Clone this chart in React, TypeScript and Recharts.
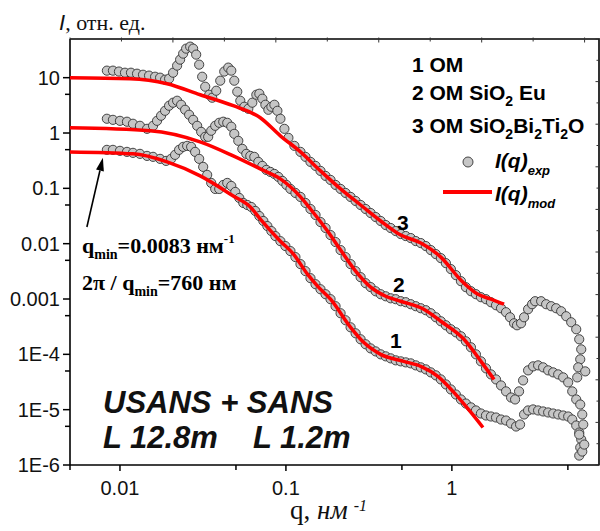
import React from 'react';
import { ComposedChart, Scatter, Line, XAxis, YAxis, ReferenceLine } from 'recharts';

// axis ticks
const xTicks = [0.005, 0.01, 0.05, 0.1, 0.5, 1, 5];
const xTickLabels = ['', '0.01', '', '0.1', '', '1', ''];
const yTicks = [1e-6, 5e-6, 1e-5, 5e-5, 1e-4, 5e-4, 0.001, 0.005, 0.01, 0.05, 0.1, 0.5, 1, 5, 10];
const yTickLabels = ['1E-6', '', '1E-5', '', '1E-4', '', '0.001', '', '0.01', '', '0.1', '', '1', '', '10'];
const xDomain = [0.005, 7.7];
const yDomain = [1e-6, 50];
// the top and right frame edges carry evenly spaced, unlabeled tick marks
const topTickIntervals = 10.28;
const rightTickIntervals = 20;

// layout
const W = 600;
const H = 531;
const M = { top: 39, right: 1, bottom: 0, left: 0 };
const Y_AXIS_W = 70;
const X_AXIS_H = 66;

// 3 OM SiO2Bi2Ti2O, experiment [q, I]
const exp3: [number, number][] = [
  [0.00834, 13.4], [0.00907, 13.4], [0.00986, 12.9], [0.01072, 12.3], [0.01165, 12.3], [0.01267, 11.8],
  [0.01377, 11.3], [0.01497, 10.9], [0.01628, 10.4], [0.01745, 10.0], [0.0187, 9.2], [0.01978, 9.6],
  [0.0209, 12.3], [0.0221, 16.5], [0.02304, 21.2], [0.02403, 27.2], [0.02505, 33.5], [0.02649, 36.4],
  [0.0276, 33.5], [0.02879, 26.1], [0.03001, 17.2], [0.03129, 10.4], [0.03263, 6.87], [0.03449, 4.92],
  [0.03596, 4.34], [0.03803, 5.81], [0.0402, 8.82], [0.0425, 12.9], [0.04494, 15.2], [0.04686, 13.4],
  [0.04885, 8.82], [0.05091, 5.58], [0.0531, 3.83], [0.05613, 2.98], [0.05934, 2.74], [0.06273, 3.53],
  [0.06633, 4.92], [0.06916, 5.13], [0.07211, 4.17], [0.0752, 3.24], [0.07839, 2.63], [0.08174, 2.98],
  [0.08522, 3.24], [0.08884, 2.52], [0.09265, 1.81], [0.09793, 1.19], [0.1035, 0.818], [0.1125, 0.586],
  [0.1224, 0.456], [0.1312, 0.3706], [0.1406, 0.3008], [0.1508, 0.2545], [0.1616, 0.2066], [0.1733, 0.1677],
  [0.1857, 0.142], [0.1991, 0.1152], [0.2135, 0.0975], [0.2288, 0.0825], [0.2453, 0.0699], [0.263, 0.0591],
  [0.2819, 0.05], [0.3022, 0.0423], [0.324, 0.0358], [0.3473, 0.0303], [0.3724, 0.0257], [0.3992, 0.0217],
  [0.4279, 0.01917], [0.4587, 0.01691], [0.4918, 0.01493], [0.5274, 0.01373], [0.5652, 0.01263], [0.6059, 0.01114],
  [0.6497, 0.01025], [0.6965, 0.00905], [0.7465, 0.00766], [0.8003, 0.00648], [0.8581, 0.00548], [0.92, 0.00445],
  [0.9862, 0.00347], [1.057, 0.0027], [1.134, 0.0021], [1.215, 0.001636], [1.303, 0.001384], [1.396, 0.001222],
  [1.497, 0.001078], [1.605, 0.000992], [1.72, 0.000875], [1.845, 0.000772], [1.978, 0.000681], [2.12, 0.000577],
  [2.241, 0.000468], [2.37, 0.000364], [2.47, 0.000335], [2.612, 0.000364], [2.723, 0.000468], [2.879, 0.000653],
  [3.044, 0.000805], [3.173, 0.000912], [3.45, 0.000912], [3.698, 0.000805], [3.965, 0.000741], [4.25, 0.000681],
  [4.556, 0.000601], [4.884, 0.000488], [5.236, 0.00038], [5.614, 0.000284], [5.853, 0.000187], [6.018, 0.000123],
  [5.935, 8.12e-5], [5.771, 5.82e-5], [5.692, 3.83e-5], [6.363, 4.92e-5],
];

// 2 OM SiO2 Eu, experiment
const exp2: [number, number][] = [
  [0.00834, 1.81], [0.00907, 1.73], [0.01, 1.66], [0.01102, 1.6], [0.01198, 1.47], [0.0132, 1.35],
  [0.01456, 1.19], [0.01583, 1.35], [0.01673, 1.66], [0.01769, 2.05], [0.0187, 2.52], [0.01977, 3.11],
  [0.0209, 3.53], [0.0221, 3.83], [0.02336, 3.24], [0.0247, 2.63], [0.02611, 2.14], [0.02761, 1.73],
  [0.02919, 1.35], [0.03086, 1.05], [0.03262, 0.853], [0.03401, 0.853], [0.03547, 1.1], [0.0375, 1.35],
  [0.03964, 1.53], [0.04192, 1.6], [0.04431, 1.53], [0.04686, 1.3], [0.04885, 0.967], [0.05164, 0.723],
  [0.05461, 0.517], [0.05772, 0.42], [0.06101, 0.386], [0.0645, 0.371], [0.06821, 0.301], [0.07211, 0.2545],
  [0.07625, 0.2154], [0.0806, 0.1982], [0.08522, 0.1823], [0.09009, 0.1609], [0.09526, 0.1362], [0.1007, 0.1152],
  [0.1065, 0.0975], [0.1141, 0.0825], [0.1224, 0.0699], [0.1312, 0.0544], [0.1406, 0.0423], [0.1508, 0.033],
  [0.1616, 0.0246], [0.1733, 0.0192], [0.1857, 0.0143], [0.1991, 0.0107], [0.2135, 0.00766], [0.2288, 0.00572],
  [0.2453, 0.00427], [0.263, 0.00319], [0.2819, 0.00248], [0.3022, 0.00193], [0.324, 0.00164], [0.3473, 0.00138],
  [0.3724, 0.00122], [0.3992, 0.00112], [0.4279, 0.00103], [0.4587, 0.000992], [0.4918, 0.000912], [0.5274, 0.000875],
  [0.5652, 0.000805], [0.6059, 0.000741], [0.6497, 0.000681], [0.6965, 0.000627], [0.7465, 0.000553], [0.8003, 0.000468],
  [0.8581, 0.000396], [0.92, 0.000335], [0.9862, 0.000284], [1.057, 0.00025], [1.134, 0.000212], [1.215, 0.000172],
  [1.303, 0.000134], [1.396, 0.0001], [1.497, 7.47e-5], [1.605, 5.58e-5], [1.72, 4.34e-5], [1.845, 3.52e-5],
  [1.978, 2.74e-5], [2.12, 2.14e-5], [2.273, 1.66e-5], [2.404, 1.53e-5], [2.54, 2.14e-5], [2.686, 3.38e-5],
  [2.879, 5.13e-5], [3.087, 6.06e-5], [3.308, 6.32e-5], [3.547, 5.82e-5], [3.803, 5.13e-5], [4.077, 4.72e-5],
  [4.371, 4.34e-5], [4.685, 3.83e-5], [5.022, 3.11e-5], [5.311, 2.14e-5], [5.614, 1.53e-5], [5.935, 1.24e-5],
  [6.103, 8.19e-6], [6.188, 5.39e-6], [5.853, 3.55e-6], [6.275, 2.34e-6],
];

// 1 OM, experiment
const exp1: [number, number][] = [
  [0.00834, 0.496], [0.00907, 0.496], [0.01, 0.476], [0.01102, 0.456], [0.01198, 0.438], [0.0132, 0.42],
  [0.01456, 0.386], [0.01583, 0.371], [0.01745, 0.341], [0.01896, 0.3135], [0.02033, 0.341], [0.02149, 0.403],
  [0.02272, 0.496], [0.02403, 0.562], [0.0254, 0.586], [0.02685, 0.562], [0.02838, 0.456], [0.03001, 0.341],
  [0.03173, 0.2442], [0.03354, 0.1749], [0.03547, 0.1253], [0.0375, 0.0975], [0.03964, 0.0975], [0.04192, 0.1152],
  [0.04431, 0.1253], [0.04686, 0.1105], [0.04954, 0.0861], [0.05236, 0.067], [0.05537, 0.0544], [0.05853, 0.05],
  [0.06187, 0.046], [0.0654, 0.039], [0.06916, 0.0316], [0.07312, 0.0257], [0.07731, 0.0208], [0.08174, 0.0169],
  [0.08642, 0.0137], [0.09265, 0.0111], [0.09931, 0.00905], [0.1065, 0.00734], [0.1141, 0.00572], [0.1224, 0.00427],
  [0.1312, 0.00319], [0.1406, 0.00238], [0.1508, 0.00185], [0.1616, 0.0015], [0.1733, 0.00122], [0.1857, 0.000992],
  [0.1991, 0.000741], [0.2135, 0.000553], [0.2288, 0.000413], [0.2453, 0.000308], [0.263, 0.00024], [0.2819, 0.000187],
  [0.3022, 0.000152], [0.324, 0.000128], [0.3473, 0.000113], [0.3724, 0.0001], [0.3992, 9.2e-5], [0.4279, 8.46e-5],
  [0.4587, 7.79e-5], [0.4918, 7.47e-5], [0.5274, 7.16e-5], [0.5652, 6.87e-5], [0.6059, 6.32e-5], [0.6497, 5.82e-5],
  [0.6965, 5.35e-5], [0.7465, 4.72e-5], [0.8003, 4.17e-5], [0.8581, 3.52e-5], [0.92, 2.86e-5], [0.9862, 2.32e-5],
  [1.057, 1.88e-5], [1.134, 1.53e-5], [1.215, 1.29e-5], [1.303, 1.1e-5], [1.396, 9.67e-6], [1.497, 8.53e-6],
  [1.605, 7.85e-6], [1.72, 7.53e-6], [1.845, 7.22e-6], [1.978, 6.64e-6], [2.12, 6.37e-6], [2.273, 5.62e-6],
  [2.437, 4.96e-6], [2.575, 5.39e-6], [2.723, 8.19e-6], [2.879, 9.67e-6], [3.087, 1.01e-5], [3.308, 9.67e-6],
  [3.547, 9.28e-6], [3.803, 8.9e-6], [4.077, 8.53e-6], [4.371, 8.19e-6], [4.685, 7.85e-6], [5.022, 7.53e-6],
  [5.311, 6.64e-6], [5.614, 5.17e-6], [5.853, 3.86e-6], [6.018, 2.89e-6], [5.935, 2.07e-6], [5.853, 1.48e-6],
  [6.103, 1.75e-6],
];

// model curves
const mod3: [number, number][] = [
  [0.005, 10], [0.01149, 9.59], [0.01923, 7.78], [0.03044, 4.92], [0.04816, 3.11], [0.0701, 1.886],
  [0.0926, 0.89], [0.1224, 0.456], [0.1616, 0.2066], [0.2135, 0.0975], [0.2819, 0.05], [0.3724, 0.0257],
  [0.4918, 0.0143], [0.6497, 0.0103], [0.8581, 0.00572], [1.134, 0.00219], [1.436, 0.00122], [1.72, 0.000992],
  [2.062, 0.000805],
];
const mod2: [number, number][] = [
  [0.005, 1.24], [0.01518, 1.1], [0.0304, 0.693], [0.04816, 0.386], [0.0701, 0.2246], [0.0926, 0.148],
  [0.1224, 0.0699], [0.1406, 0.0423], [0.1781, 0.0169], [0.2135, 0.00766], [0.263, 0.00319], [0.324, 0.00164],
  [0.3992, 0.00112], [0.4918, 0.000912], [0.6773, 0.000653], [0.8581, 0.000396], [1.182, 0.000187], [1.497, 7.47e-5],
  [1.794, 3.52e-5],
];
const mod1: [number, number][] = [
  [0.005, 0.456], [0.01198, 0.42], [0.01923, 0.3008], [0.03044, 0.1677], [0.04816, 0.0728], [0.061, 0.046],
  [0.0701, 0.0279], [0.0926, 0.0111], [0.111, 0.00648], [0.1349, 0.00281], [0.155, 0.00171], [0.1857, 0.000992],
  [0.2453, 0.000308], [0.2939, 0.000165], [0.3724, 0.0001], [0.5129, 7.47e-5], [0.6497, 6.06e-5], [0.823, 3.99e-5],
  [1.028, 2.05e-5], [1.303, 8.9e-6], [1.539, 4.76e-6],
];

// arrow pointing at q_min
const arrowFrom = { x: 0.00632, y: 0.02 };
const arrowTo = { x: 0.00789, y: 0.356 };

const rows = (a: [number, number][]) => a.map(([q, i]) => ({ q, i }));

const SANS = '"Liberation Sans", Arial, sans-serif';
const SERIF = '"Liberation Serif", "Times New Roman", serif';
const RED = '#ff0000';

const Dot = (p: any) => (
  <circle cx={p.cx} cy={p.cy} r={4.6} fill="#c6c6c6" stroke="#333" strokeWidth={0.9} />
);

const XTick = (p: any) => {
  const label = xTickLabels[p.index];
  return (
    <g>
      <line x1={p.x} x2={p.x} y1={p.y} y2={p.y + (label ? 6 : 5)} stroke="#000" strokeWidth={1.5} />
      {label && (
        <text x={p.x} y={p.y + 16} dy="0.71em" textAnchor="middle" fontFamily={SANS} fontSize={20} fill="#111">
          {label}
        </text>
      )}
    </g>
  );
};

const YTick = (p: any) => {
  const label = yTickLabels[p.index];
  return (
    <g>
      <line x1={p.x - (label ? 7 : 5)} x2={p.x} y1={p.y} y2={p.y} stroke="#000" strokeWidth={1.5} />
      {label && (
        <text x={p.x - 10} y={p.y} dy="0.355em" textAnchor="end" fontFamily={SANS} fontSize={20} fill="#111">
          {label}
        </text>
      )}
    </g>
  );
};

const Arrow = (p: any) => {
  const { x1, y1, x2, y2 } = p;
  const a = Math.atan2(y2 - y1, x2 - x1);
  const len = 13;
  const w = 4;
  const bx = x2 - len * Math.cos(a);
  const by = y2 - len * Math.sin(a);
  const pts = `${x2},${y2} ${bx + w * Math.sin(a)},${by - w * Math.cos(a)} ${bx - w * Math.sin(a)},${by + w * Math.cos(a)}`;
  return (
    <g>
      <line x1={x1} y1={y1} x2={bx} y2={by} stroke="#000" strokeWidth={1.6} />
      <polygon points={pts} fill="#000" />
    </g>
  );
};

// top/right frame with evenly spaced inward ticks, placed on the plot box
const Frame = () => {
  const left = M.left + Y_AXIS_W;
  const top = M.top;
  const right = W - M.right;
  const bottom = H - M.bottom - X_AXIS_H;
  const marks = [];
  const dx = (right - left) / topTickIntervals;
  for (let k = 0; k <= Math.floor(topTickIntervals); k++) {
    const x = left + k * dx;
    marks.push(<line key={'t' + k} x1={x} x2={x} y1={top - 1.5} y2={top + (k % 2 === 0 ? 3.5 : 2.5)} stroke="#333" strokeWidth={1} />);
  }
  const dy = (bottom - top) / rightTickIntervals;
  for (let k = 0; k <= rightTickIntervals; k++) {
    const y = bottom - k * dy;
    marks.push(<line key={'r' + k} x1={right - (k % 2 === 0 ? 3.5 : 2.5)} x2={right + 1} y1={y} y2={y} stroke="#333" strokeWidth={1} />);
  }
  return (
    <g>
      <polyline points={`${left},${top} ${right},${top} ${right},${bottom}`} fill="none" stroke="#000" strokeWidth={1.6} />
      {marks}
    </g>
  );
};

export default function App() {
  return (
    <div style={{ position: 'absolute', left: 0, top: 0, width: W, height: H, background: '#fff' }}>
      <ComposedChart width={W} height={H} margin={M}>
        <XAxis
          dataKey="q"
          type="number"
          scale="log"
          domain={xDomain}
          allowDataOverflow
          ticks={xTicks}
          interval={0}
          height={X_AXIS_H}
          tickSize={0}
          tickMargin={0}
          tickLine={false}
          axisLine={{ stroke: '#000', strokeWidth: 1.6 }}
          tick={XTick}
        />
        <YAxis
          dataKey="i"
          type="number"
          scale="log"
          domain={yDomain}
          allowDataOverflow
          ticks={yTicks}
          interval={0}
          width={Y_AXIS_W}
          tickSize={0}
          tickMargin={0}
          tickLine={false}
          axisLine={{ stroke: '#000', strokeWidth: 1.6 }}
          tick={YTick}
        />
        <Scatter data={rows(exp1)} dataKey="i" shape={Dot} isAnimationActive={false} />
        <Scatter data={rows(exp2)} dataKey="i" shape={Dot} isAnimationActive={false} />
        <Scatter data={rows(exp3)} dataKey="i" shape={Dot} isAnimationActive={false} />
        <Line data={rows(mod1)} dataKey="i" type="monotone" stroke={RED} strokeWidth={3.5} dot={false} isAnimationActive={false} zIndex={900} />
        <Line data={rows(mod2)} dataKey="i" type="monotone" stroke={RED} strokeWidth={3.5} dot={false} isAnimationActive={false} zIndex={900} />
        <Line data={rows(mod3)} dataKey="i" type="monotone" stroke={RED} strokeWidth={3.5} dot={false} isAnimationActive={false} zIndex={900} />
        <ReferenceLine segment={[arrowFrom, arrowTo]} shape={Arrow} ifOverflow="visible" />
      </ComposedChart>

      <svg width={W} height={H} style={{ position: 'absolute', left: 0, top: 0, pointerEvents: 'none' }}>
        <Frame />

        {/* y axis title */}
        <text x={59} y={30} fontSize={22} fill="#111">
          <tspan fontFamily={SANS} fontStyle="italic">I</tspan>
          <tspan fontFamily={SERIF}>, отн. ед.</tspan>
        </text>
        {/* x axis title */}
        <text x={290} y={519} fontSize={27} fontFamily={SERIF} fill="#111">
          <tspan>q, </tspan>
          <tspan fontStyle="italic">нм</tspan>
          <tspan fontStyle="italic" fontSize={16} dx={6} dy={-8}>-1</tspan>
        </text>

        {/* legend */}
        <g fontFamily={SANS} fontWeight="bold" fontSize={21} fill="#000">
          <text x={412} y={72}>1 OM</text>
          <text x={412} y={100}>
            2 OM SiO<tspan fontSize={14} dy={6}>2</tspan><tspan dy={-6}> Eu</tspan>
          </text>
          <text x={412} y={133}>
            3 OM SiO<tspan fontSize={14} dy={6}>2</tspan>
            <tspan dy={-6}>Bi</tspan><tspan fontSize={14} dy={6}>2</tspan>
            <tspan dy={-6}>Ti</tspan><tspan fontSize={14} dy={6}>2</tspan>
            <tspan dy={-6}>O</tspan>
          </text>
        </g>
        <circle cx={468} cy={162} r={5} fill="#c6c6c6" stroke="#444" strokeWidth={1} />
        <line x1={443} x2={492} y1={192} y2={192} stroke={RED} strokeWidth={4} />
        <g fontFamily={SANS} fontWeight="bold" fontStyle="italic" fill="#000">
          <text x={495} y={168} fontSize={21}>
            I(q)<tspan fontSize={13} dy={7}>exp</tspan>
          </text>
          <text x={495} y={201} fontSize={21}>
            I(q)<tspan fontSize={13} dy={7}>mod</tspan>
          </text>
        </g>

        {/* curve numbers */}
        <g fontFamily={SANS} fontWeight="bold" fontSize={21} fill="#000">
          <text x={397} y={230}>3</text>
          <text x={393} y={292}>2</text>
          <text x={390} y={348}>1</text>
        </g>

        {/* q_min annotation */}
        <g fontFamily={SERIF} fontWeight="bold" fontSize={22} fill="#000">
          <text x={82} y={253}>
            q<tspan fontSize={14} dy={6}>min</tspan>
            <tspan dy={-6}>=0.0083 нм</tspan>
            <tspan fontSize={13} dy={-10}>-1</tspan>
          </text>
          <text x={82} y={290}>
            2π / q<tspan fontSize={14} dy={6}>min</tspan>
            <tspan dy={-6}>=760 нм</tspan>
          </text>
        </g>

        {/* instrument text */}
        <g fontFamily={SANS} fontWeight="bold" fontStyle="italic" fontSize={31} fill="#111">
          <text x={103} y={413}>USANS + SANS</text>
          <text x={103} y={448}>L 12.8m</text>
          <text x={253} y={448}>L 1.2m</text>
        </g>
      </svg>
    </div>
  );
}
